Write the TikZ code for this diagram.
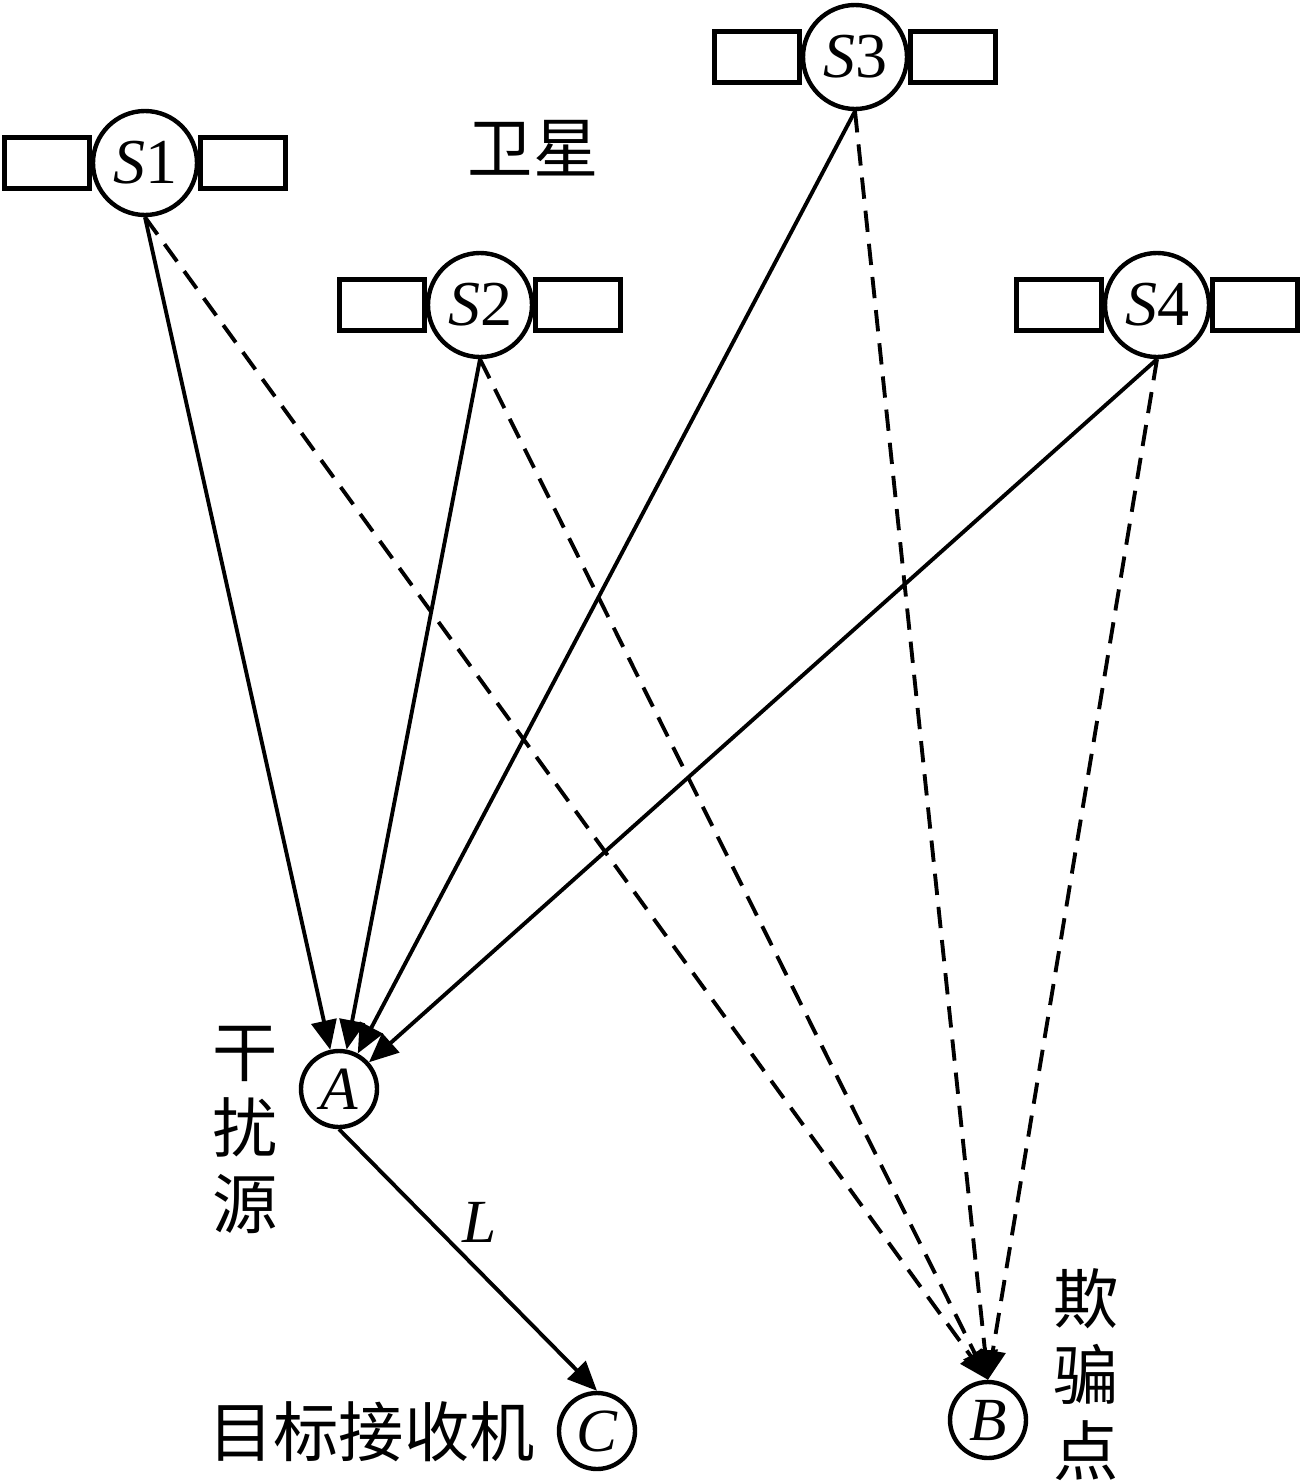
\documentclass[tikz,border=0pt]{standalone}
\usepackage{fontspec}
\setmainfont{Liberation Serif}
\newfontfamily\cjk{Noto Sans CJK SC}
\usetikzlibrary{arrows.meta}
\begin{document}
\begin{tikzpicture}[x=0.75pt,y=-0.75pt,
 sat/.style={circle,draw,line width=3.3pt,fill=white,minimum size=78pt,inner sep=0pt,font=\fontsize{48}{50}\selectfont},
 panel/.style={rectangle,draw,line width=3.3pt,minimum width=64pt,minimum height=38pt,inner sep=0pt},
 pt/.style={circle,draw,line width=3.3pt,fill=white,minimum size=57pt,inner sep=0pt,font=\fontsize{46}{50}\selectfont\itshape},
 sig/.style={line width=2.9pt,-{Triangle[length=22pt,width=19pt]}},
 spoof/.style={sig,dash pattern=on 16pt off 9pt},
 lab/.style={font=\cjk\fontsize{49}{57}\selectfont,inner sep=0pt,align=center}]
\useasboundingbox (0,0) rectangle (1305,1481);
% satellites
\foreach \n/\cx/\cy in {1/145/163,2/480/305,3/855/57,4/1157/305}{
  \node[panel] (p\n l) at (\cx-98,\cy) {};
  \node[panel] (p\n r) at (\cx+98,\cy) {};
  \node[sat] (s\n) at (\cx,\cy) {\textit{S}\n};
}
\node[lab] (sat) at (533,148) {卫星};
% ground points
\node[pt] (A) at (339,1089) {A};
\node[pt] (B) at (988,1420) {B};
\node[pt] (C) at (597,1431) {C};
\node[lab] (lA) at (245,1130) {干\\扰\\源};
\node[lab] (lB) at (1086,1375) {欺\\骗\\点};
\node[lab,anchor=east] (lC) at (535,1432) {目标接收机};
% signals
\foreach \n in {1,2,3,4}{
  \draw[sig] (s\n.south) -- (A);
  \draw[spoof] (s\n.south) -- (B.north);
}
\draw[sig] (A.south) -- (C.north);
\node[font=\fontsize{46}{50}\selectfont\itshape,inner sep=0pt] (L) at (480,1222) {L};
\end{tikzpicture}
\end{document}
